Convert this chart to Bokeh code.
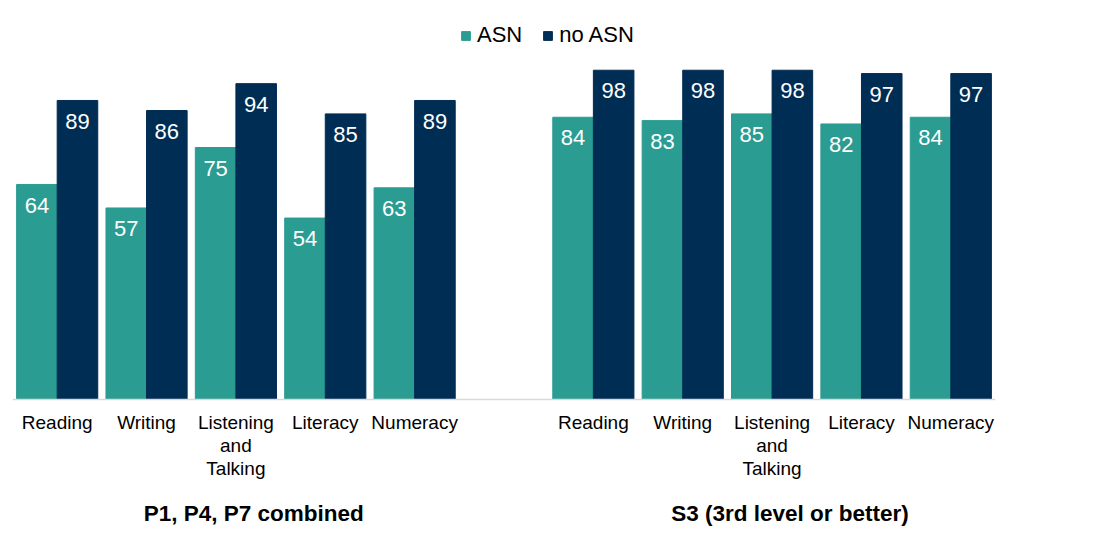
from bokeh.plotting import figure
from bokeh.models import FactorRange, Range1d, ColumnDataSource, Span
from bokeh.transform import dodge
from bokeh.core.properties import value
from bokeh.embed import file_html
from bokeh.resources import INLINE

# data
groups = ["P1, P4, P7 combined", "S3 (3rd level or better)"]
subjects = ["Reading", "Writing", "Listening\nand\nTalking", "Literacy", "Numeracy"]
asn = [64, 57, 75, 54, 63, 84, 83, 85, 82, 84]
no_asn = [89, 86, 94, 85, 89, 98, 98, 98, 97, 97]

TEAL = "#2A9C92"
NAVY = "#002D54"
FONT = value("Liberation Sans")
PX_PER_UNIT = 3.36
BASE_Y = 399      # pixel row of the zero line
H = 532
LABEL_DROP = 20.7 / PX_PER_UNIT   # value labels sit ~21px under the bar top

x = [(g, s) for g in groups for s in subjects]
source = ColumnDataSource(data=dict(
    x=x,
    asn=asn,
    no_asn=no_asn,
    asn_txt=[str(v) for v in asn],
    no_asn_txt=[str(v) for v in no_asn],
    asn_y=[v - LABEL_DROP for v in asn],
    no_asn_y=[v - LABEL_DROP for v in no_asn],
    sub=[s for g in groups for s in subjects],
))
group_src = ColumnDataSource(data=dict(g=groups))

p = figure(width=1100, height=H,
           x_range=FactorRange(*x, group_padding=1.0, range_padding=0),
           y_range=Range1d(-(H - BASE_Y) / PX_PER_UNIT, (BASE_Y - 8) / PX_PER_UNIT),
           x_axis_location=None, y_axis_location=None,
           min_border_left=12, min_border_right=105,
           min_border_top=8, min_border_bottom=0,
           outline_line_color=None, toolbar_location=None,
           output_backend="svg")
p.grid.visible = False

bw = 0.454
off = 0.227
p.vbar(x=dodge('x', -off, range=p.x_range), top='asn', width=bw, source=source,
       color=TEAL, legend_label="ASN")
p.vbar(x=dodge('x', off, range=p.x_range), top='no_asn', width=bw, source=source,
       color=NAVY, legend_label="no ASN")

# value labels inside the bars
p.text(x=dodge('x', -off, range=p.x_range), y='asn_y', text='asn_txt', source=source,
       text_align="center", text_baseline="middle", text_color="white",
       text_font=FONT, text_font_size="22px")
p.text(x=dodge('x', off, range=p.x_range), y='no_asn_y', text='no_asn_txt', source=source,
       text_align="center", text_baseline="middle", text_color="white",
       text_font=FONT, text_font_size="22px")

# baseline
p.add_layout(Span(location=0, dimension="width", line_color="#D9D9D9", line_width=1.5))

# category labels
p.text(x='x', y=-3.8, text='sub', source=source,
       text_align="center", text_baseline="top", text_color="#000000",
       text_font=FONT, text_font_size="19px", text_line_height=1.08)

# group labels
p.text(x=dodge('g', 0.2, range=p.x_range), y=-34.0, text='g', source=group_src,
       text_align="center", text_baseline="middle", text_color="#000000",
       text_font=FONT, text_font_size="22.5px", text_font_style="bold")

lg = p.legend[0]
lg.location = (448, 484)
lg.orientation = "horizontal"
lg.border_line_color = None
lg.background_fill_alpha = 0
lg.padding = 0
lg.margin = 0
lg.spacing = 20
lg.label_standoff = 6
lg.glyph_width = 11
lg.glyph_height = 11
lg.label_text_font = "Liberation Sans"
lg.label_text_font_size = "22px"
lg.label_text_color = "#000000"

open("out.html", "w").write(file_html(p, INLINE))
